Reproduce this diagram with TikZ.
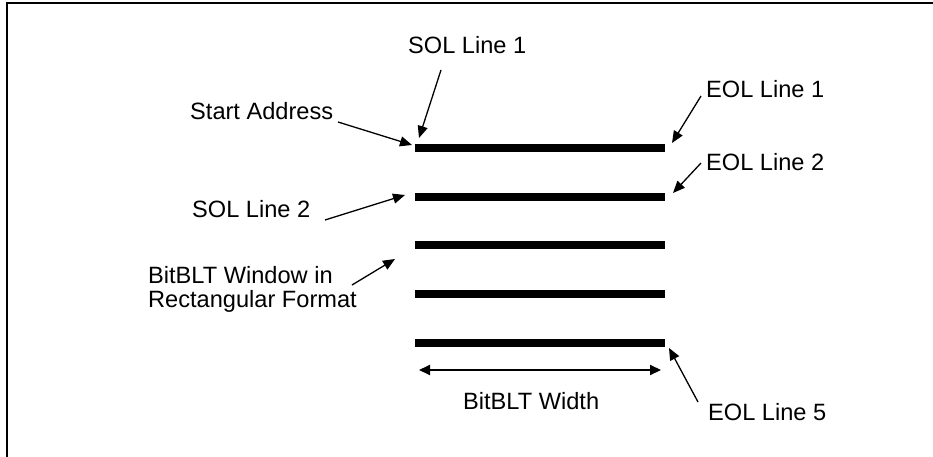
\documentclass[tikz,border=0pt]{standalone}
\usepackage{fontspec}
\setmainfont{Liberation Sans}
\usetikzlibrary{arrows.meta}
\begin{document}
\begin{tikzpicture}[x=1pt,y=-1pt,
  lbl/.style={anchor=base west,inner sep=0pt,font=\fontsize{23.6}{24}\selectfont},
  bar/.style={line width=8pt},
  ptr/.style={line width=1.3pt,-{Triangle[length=12pt,width=10pt]}},
  dim/.style={line width=2pt,{Triangle[length=11pt,width=10pt]}-{Triangle[length=11pt,width=10pt]}},
  frame/.style={line width=2.5pt}]
\useasboundingbox (0,0) rectangle (933,457);
\draw[frame] (7,457) -- (7,3) -- (933,3);
% bars
\foreach \i/\y in {1/148,2/197,3/245,4/294,5/343}{
  \coordinate (b\i l) at (415,\y);
  \coordinate (b\i r) at (665,\y);
  \draw[bar] (b\i l) -- (b\i r);
}
% labels
\node[lbl] (sol1) at (408,54) {SOL Line 1};
\node[lbl] (start) at (190,120) {Start Address};
\node[lbl] (eol1) at (706,98) {EOL Line 1};
\node[lbl] (eol2) at (706,171) {EOL Line 2};
\node[lbl] (sol2) at (192,217) {SOL Line 2};
\node[lbl] (win1) at (148,283) {BitBLT Window in};
\node[lbl] (win2) at (148,307) {Rectangular Format};
\node[lbl] (width) at (463,409) {BitBLT Width};
\node[lbl] (eol5) at (708,420) {EOL Line 5};
% arrow ends
\coordinate (aS0) at (338,122); \coordinate (aS1) at (412,145);
\coordinate (a10) at (441,70);  \coordinate (a11) at (419,138);
\coordinate (e10) at (701,96);  \coordinate (e11) at (672,143);
\coordinate (e20) at (701,163); \coordinate (e21) at (673,193);
\coordinate (s20) at (325,220); \coordinate (s21) at (405,195);
\coordinate (w0) at (352,285);  \coordinate (w1) at (395,259);
\coordinate (e50) at (698,402); \coordinate (e51) at (669,348);
\coordinate (d0) at (419,370);  \coordinate (d1) at (661,370);
\draw[ptr] (aS0) -- (aS1);
\draw[ptr] (a10) -- (a11);
\draw[ptr] (e10) -- (e11);
\draw[ptr] (e20) -- (e21);
\draw[ptr] (s20) -- (s21);
\draw[ptr] (w0) -- (w1);
\draw[ptr] (e50) -- (e51);
\draw[dim] (d0) -- (d1);
\end{tikzpicture}
\end{document}
